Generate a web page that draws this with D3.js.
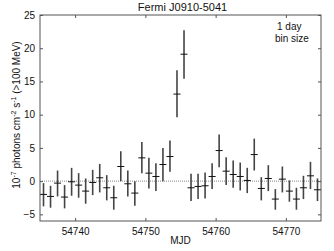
<!DOCTYPE html>
<html>
<head>
<meta charset="utf-8">
<script src="https://cdn.jsdelivr.net/npm/d3@7"></script>
<style>
  body { margin: 0; background: #fff; }
  text { font-family: "Liberation Sans", Arial, sans-serif; fill: #111; }
</style>
</head>
<body>
<div id="chart"></div>
<script>
// daily bins (MJD centre), flux in 1e-7 ph cm^-2 s^-1, and error bar ends
const mjd = [54735.5, 54736.5, 54737.5, 54738.5, 54739.5, 54740.5, 54741.5, 54742.5, 54743.5, 54744.5,
             54745.5, 54746.5, 54747.5, 54748.5, 54749.5, 54750.5, 54751.5, 54752.5, 54753.5, 54754.5,
             54755.5, 54756.5, 54757.5, 54758.5, 54759.5, 54760.5, 54761.5, 54762.5, 54763.5, 54764.5,
             54765.5, 54766.5, 54767.5, 54768.5, 54769.5, 54770.5, 54771.5, 54772.5, 54773.5, 54774.5];
const flux = [-2.0, -2.3, -0.3, -2.4, -0.1, -0.6, -1.5, -0.2, 0.5, -1.0,
              -2.5, 2.2, -0.4, -1.8, 3.5, 1.2, 0.7, 2.5, 3.7, 13.1,
              19.1, -1.0, -0.8, -0.7, 0.7, 4.6, 1.5, 1.0, 0.7, 0.1,
              4.0, -1.1, 0.4, -2.7, 0.3, -1.5, -2.7, -1.0, 0.8, -1.3];
const errLo = [-3.8, -4.0, -2.3, -4.1, -2.2, -2.5, -3.4, -2.1, -1.7, -2.9,
               -4.3, 0.0, -2.3, -3.7, 1.2, -1.1, -1.5, 0.0, 1.4, 9.6,
               15.4, -3.0, -2.7, -2.6, -1.2, 2.1, -0.6, -1.0, -1.4, -1.8,
               1.6, -2.9, -1.5, -4.3, -1.7, -3.1, -4.3, -2.7, -1.2, -3.0];
const errHi = [-0.3, -0.7, 1.6, -0.6, 2.0, 1.2, 0.4, 1.7, 2.6, 0.9,
               -0.7, 4.5, 1.6, 0.0, 5.9, 3.5, 2.7, 5.0, 6.1, 16.7,
               22.7, 1.1, 1.1, 1.3, 2.7, 7.0, 3.6, 3.1, 2.8, 2.0,
               6.4, 0.6, 2.4, -1.2, 2.2, 0.1, -1.0, 0.8, 2.9, 0.4];
const xTicks = [54740, 54750, 54760, 54770];
const yTicks = [-5, 0, 5, 10, 15, 20, 25];

const data = mjd.map((d, i) => ({x: d, y: flux[i], lo: errLo[i], hi: errHi[i]}));

const width = 334, height = 251;
const margin = {top: 15, right: 13, bottom: 30, left: 40};
const w = width - margin.left - margin.right;
const h = height - margin.top - margin.bottom;

const svg = d3.select("#chart").append("svg")
    .attr("width", width)
    .attr("height", height);

const g = svg.append("g")
    .attr("transform", `translate(${margin.left},${margin.top})`);

const x = d3.scaleLinear().domain([54735, 54775]).range([0, w]);
const y = d3.scaleLinear().domain([-6, 25]).range([h, 0]);

// zero line
g.append("line")
    .attr("x1", 0).attr("x2", w)
    .attr("y1", y(0)).attr("y2", y(0))
    .attr("stroke", "#888")
    .attr("stroke-width", 1)
    .attr("stroke-dasharray", "1,1");

// error bars
g.append("g").selectAll("line")
    .data(data)
    .join("line")
    .attr("x1", d => x(d.x)).attr("x2", d => x(d.x))
    .attr("y1", d => y(d.lo)).attr("y2", d => y(d.hi))
    .attr("stroke", "#444")
    .attr("stroke-width", 1.6);

// bin width marks
g.append("g").selectAll("line")
    .data(data)
    .join("line")
    .attr("x1", d => x(d.x - 0.5)).attr("x2", d => x(d.x + 0.5))
    .attr("y1", d => y(d.y)).attr("y2", d => y(d.y))
    .attr("stroke", "#111")
    .attr("stroke-width", 1);

// axes, ticks pointing inward on every side
const axisStyle = sel => {
    sel.select(".domain").remove();
    sel.selectAll(".tick line").attr("stroke", "#555");
    sel.selectAll(".tick text").attr("font-size", 10).attr("fill", "#111")
        .attr("font-family", "'Liberation Sans', Arial, sans-serif");
};

g.append("g")
    .attr("transform", `translate(0,${h})`)
    .call(d3.axisBottom(x).tickValues(xTicks).tickFormat(d3.format("d")).tickSizeInner(-3).tickPadding(7))
    .call(axisStyle);

g.append("g")
    .call(d3.axisTop(x).tickValues(xTicks).tickSizeInner(-3).tickFormat(""))
    .call(axisStyle);

g.append("g")
    .call(d3.axisLeft(y).tickValues(yTicks).tickSizeInner(-3).tickPadding(5).tickFormat(d => d < 0 ? "\u2212" + (-d) : d))
    .call(axisStyle);

g.append("g")
    .attr("transform", `translate(${w},0)`)
    .call(d3.axisRight(y).tickValues(yTicks).tickSizeInner(-3).tickFormat(""))
    .call(axisStyle);

// frame
g.append("rect")
    .attr("width", w).attr("height", h)
    .attr("fill", "none")
    .attr("stroke", "#555")
    .attr("stroke-width", 1);

// labels
svg.append("text")
    .attr("x", margin.left + w / 2 + 2)
    .attr("y", 11)
    .attr("text-anchor", "middle")
    .attr("font-size", 11)
    .text("Fermi J0910-5041");

svg.append("text")
    .attr("x", margin.left + w / 2)
    .attr("y", 244)
    .attr("text-anchor", "middle")
    .attr("font-size", 10)
    .text("MJD");

const yl = svg.append("text")
    .attr("transform", "translate(20,115) rotate(-90)")
    .attr("text-anchor", "middle")
    .attr("font-size", 10);
yl.append("tspan").text("10");
yl.append("tspan").attr("dy", -4).attr("font-size", 7).text("-7");
yl.append("tspan").attr("dy", 4).text(" photons cm");
yl.append("tspan").attr("dy", -4).attr("font-size", 7).text("-2");
yl.append("tspan").attr("dy", 4).text(" s");
yl.append("tspan").attr("dy", -4).attr("font-size", 7).text("-1");
yl.append("tspan").attr("dy", 4).text("  (>100 MeV)");

svg.append("text")
    .attr("x", 277).attr("y", 30)
    .attr("font-size", 10)
    .text("1 day");
svg.append("text")
    .attr("x", 275).attr("y", 42)
    .attr("font-size", 10)
    .text("bin size");
</script>
</body>
</html>
